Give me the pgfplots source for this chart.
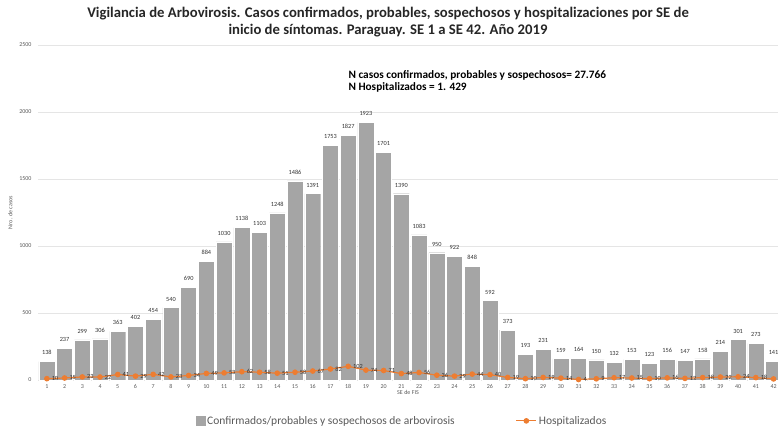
\documentclass[border=0pt]{standalone}
\usepackage{pgfplots}
\pgfplotsset{compat=1.18}
\usepackage{fontspec}
\setmainfont{Carlito}
\definecolor{bargray}{HTML}{A5A5A5}
\definecolor{orng}{HTML}{ED7D31}
\definecolor{txtgray}{HTML}{595959}
\begin{document}
\begin{tikzpicture}
\begin{axis}[
  name=ax,
  width=740pt, height=335pt, scale only axis,
  xmin=0.5, xmax=42.25, ymin=0, ymax=2500,
  xtick={1,...,42}, ytick={0,500,...,2500},
  ymajorgrids, grid style={draw=black!10, line width=0.6pt},
  axis line style={draw=none}, major tick length=0pt,
  /pgf/number format/assume math mode=true,
  /pgf/number format/set thousands separator={},
  tick label style={font=\fontsize{6}{7}\selectfont, text=txtgray},
  yticklabel style={xshift=-3pt},
  xticklabel style={yshift=-1pt},
  xlabel={SE de FIS}, ylabel={Nro. de casos},
  label style={font=\fontsize{6}{7}\selectfont, text=txtgray},
  xlabel style={yshift=5pt},
  ylabel style={yshift=0pt},
  clip=false,
  legend columns=2,
  legend style={at={(0.492,-0.122)}, anchor=center, draw=none, fill=none,
    font=\fontsize{11.5}{13}\selectfont, text=txtgray,
    /tikz/every even column/.append style={column sep=59pt}},
]
\addplot[ybar, bar shift=0pt, bar width=0.9, fill=bargray, draw=white, line width=0.4pt,
  legend image code/.code={\fill[bargray] (0pt,-4.5pt) rectangle (9pt,4.5pt);},
  nodes near coords, nodes near coords style={font=\fontsize{6.3}{7}\selectfont, text=black!80, anchor=south, yshift=3pt},
  /pgf/number format/assume math mode=true,
  /pgf/number format/set thousands separator={}]
coordinates {
(1,138)(2,237)(3,299)(4,306)(5,363)(6,402)(7,454)(8,540)(9,690)(10,884)
(11,1030)(12,1138)(13,1103)(14,1248)(15,1486)(16,1391)(17,1753)(18,1827)(19,1923)(20,1701)
(21,1390)(22,1083)(23,950)(24,922)(25,848)(26,592)(27,373)(28,193)(29,231)(30,159)
(31,164)(32,150)(33,132)(34,153)(35,123)(36,156)(37,147)(38,158)(39,214)(40,301)
(41,273)(42,141)};
\addlegendentry{Confirmados/probables y sospechosos de arbovirosis}
\addplot[color=orng, line width=1.2pt, mark=*, mark size=2.2pt,
  legend image code/.code={\draw[orng, line width=1.2pt] (0pt,0pt) -- (20pt,0pt); \fill[orng] (10pt,0pt) circle (2.2pt);},
  nodes near coords, nodes near coords style={font=\fontsize{6.3}{7}\selectfont, text=black!80, anchor=west, xshift=1pt},
  /pgf/number format/assume math mode=true]
coordinates {
(1,10)(2,15)(3,23)(4,22)(5,41)(6,29)(7,42)(8,23)(9,34)(10,49)
(11,53)(12,62)(13,58)(14,51)(15,58)(16,67)(17,82)(18,102)(19,74)(20,71)
(21,48)(22,56)(23,36)(24,29)(25,44)(26,40)(27,19)(28,10)(29,19)(30,14)
(31,4)(32,9)(33,17)(34,15)(35,10)(36,16)(37,12)(38,18)(39,22)(40,24)
(41,18)(42,8)};
\addlegendentry{Hospitalizados}
\end{axis}
\node[font=\fontsize{14.7}{16.5}\selectfont\bfseries, text=black!85, align=center]
  at ([shift={(350pt,358pt)}]ax.south west)
  {Vigilancia de Arbovirosis. Casos confirmados, probables, sospechosos y hospitalizaciones por SE de\\inicio de síntomas. Paraguay. SE 1 a SE 42. Año 2019};
\node[font=\fontsize{11.3}{12.5}\selectfont\bfseries, text=black, align=left, anchor=north west]
  at ([shift={(307pt,313pt)}]ax.south west)
  {N casos confirmados, probables y sospechosos= 27.766\\N Hospitalizados = 1. 429};
\pgfresetboundingbox
\path[use as bounding box] ([shift={(-38pt,-49pt)}]ax.south west) rectangle ([shift={(0pt,45pt)}]ax.north east);
\end{tikzpicture}
\end{document}
